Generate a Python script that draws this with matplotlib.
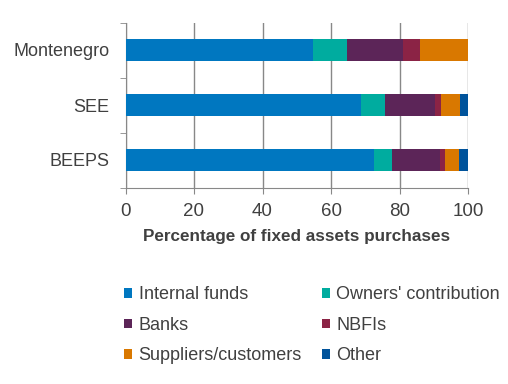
import matplotlib.pyplot as plt
import numpy as np

categories = ['Montenegro', 'SEE', 'BEEPS']
sources = ['Internal funds', "Owners' contribution", 'Banks', 'NBFIs',
           'Suppliers/customers', 'Other']
internal = [54.7, 68.9, 72.5]
owners = [10.0, 6.9, 5.3]
banks = [16.3, 14.6, 14.1]
nbfis = [5.0, 1.7, 1.4]
suppliers = [14.0, 5.6, 4.1]
other = [0.0, 2.3, 2.6]
colors = ['#0077C0', '#00AC9F', '#5C2558', '#8B2345', '#D97800', '#00539B']

plt.rcParams['font.family'] = ['Liberation Sans', 'DejaVu Sans']
grey = '#404040'

fig = plt.figure(figsize=(5.08, 3.84), dpi=100)
ax = fig.add_axes([125.5 / 508, 1 - 187.5 / 384, 342.5 / 508, 165 / 384])

y = np.arange(len(categories))
left = np.zeros(len(categories))
series = [internal, owners, banks, nbfis, suppliers, other]
for name, vals, c in zip(sources, series, colors):
    ax.barh(y, vals, left=left, height=0.4, color=c, label=name, zorder=3)
    left += np.array(vals)

ax.set_ylim(2.5, -0.5)
ax.set_xlim(0, 100)
ax.set_yticks(y)
ax.set_yticklabels(categories, fontsize=13, color=grey)
ax.set_yticks([-0.5, 0.5, 1.5, 2.5], minor=True)
ax.tick_params(axis='y', which='major', length=0, pad=11.5)
ax.tick_params(axis='y', which='minor', length=4.5, color='#888888')
ax.set_xticks([0, 20, 40, 60, 80, 100])
ax.tick_params(axis='x', length=4, color='#888888', labelsize=13.5,
               labelcolor=grey, pad=7)
ax.grid(axis='x', color='#888888', linewidth=1, zorder=0)
for s in ['top', 'right']:
    ax.spines[s].set_visible(False)
for s in ['left', 'bottom']:
    ax.spines[s].set_color('#888888')
ax.set_xlabel('Percentage of fixed assets purchases', fontsize=12.3,
              fontweight='bold', color=grey, labelpad=7)

handles, labels = ax.get_legend_handles_labels()
order = [0, 2, 4, 1, 3, 5]
fig.legend([handles[i] for i in order], [labels[i] for i in order], ncol=2,
           loc='upper left', bbox_to_anchor=(108 / 508, 1 - 270 / 384),
           frameon=False, fontsize=13, labelcolor=grey, handlelength=0.45,
           handleheight=0.45, handletextpad=0.35, columnspacing=1.1,
           labelspacing=0.75)

fig.savefig('out.png', dpi=100)
